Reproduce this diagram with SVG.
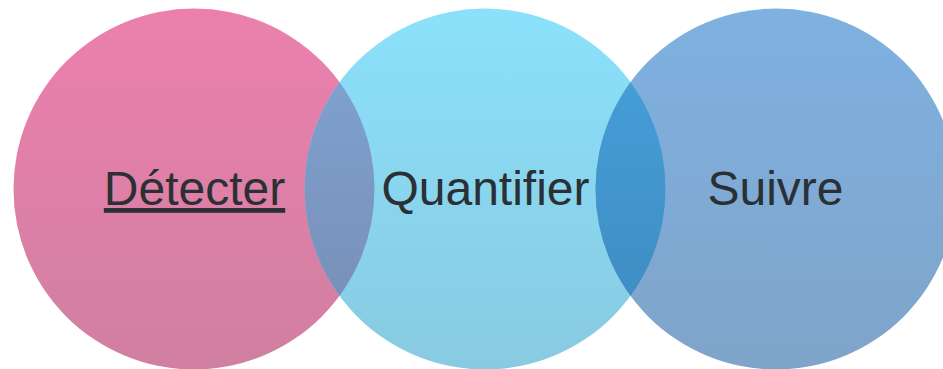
<svg xmlns="http://www.w3.org/2000/svg" width="943" height="369" viewBox="0 0 943 369">
  <defs>
    <linearGradient id="gPink" x1="0" y1="0" x2="0" y2="1">
      <stop offset="0" stop-color="#EC80AD"/>
      <stop offset="1" stop-color="#D07FA1"/>
    </linearGradient>
    <linearGradient id="gCyan" x1="0" y1="0" x2="0" y2="1">
      <stop offset="0" stop-color="#8BE1FB"/>
      <stop offset="1" stop-color="#88CAE1"/>
    </linearGradient>
    <linearGradient id="gBlue" x1="0" y1="0" x2="0" y2="1">
      <stop offset="0" stop-color="#7FB1E1"/>
      <stop offset="1" stop-color="#7FA4C9"/>
    </linearGradient>
    <linearGradient id="gMix1" x1="0" y1="0" x2="0" y2="1">
      <stop offset="0" stop-color="#80A6D6"/>
      <stop offset="1" stop-color="#768BB2"/>
    </linearGradient>
    <linearGradient id="gMix2" x1="0" y1="0" x2="0" y2="1">
      <stop offset="0" stop-color="#47A3DD"/>
      <stop offset="1" stop-color="#3D88BE"/>
    </linearGradient>
    <clipPath id="clipLeft"><circle cx="194" cy="189" r="180.5"/></clipPath>
    <clipPath id="clipRight"><circle cx="776" cy="189" r="180.5"/></clipPath>
  </defs>
  <style>
    .label { font-family: "Liberation Sans", Arial, sans-serif; font-size: 48px; fill: #2B3035; text-anchor: middle; }
  </style>

  <g id="detecter">
    <circle cx="194" cy="189" r="180.5" fill="url(#gPink)"/>
  </g>
  <g id="quantifier">
    <circle cx="485" cy="189" r="180.5" fill="url(#gCyan)"/>
  </g>
  <g id="suivre">
    <circle cx="776" cy="189" r="180.5" fill="url(#gBlue)"/>
  </g>

  <!-- overlapping lenses between neighbouring circles -->
  <g id="overlaps">
    <circle cx="485" cy="189" r="180.5" fill="url(#gMix1)" clip-path="url(#clipLeft)"/>
    <circle cx="485" cy="189" r="180.5" fill="url(#gMix2)" clip-path="url(#clipRight)"/>
  </g>

  <g id="labels">
    <text class="label" x="194.5" y="205" text-decoration="underline">Détecter</text>
    <text class="label" x="485.5" y="205">Quantifier</text>
    <text class="label" x="775.5" y="205">Suivre</text>
  </g>
</svg>
